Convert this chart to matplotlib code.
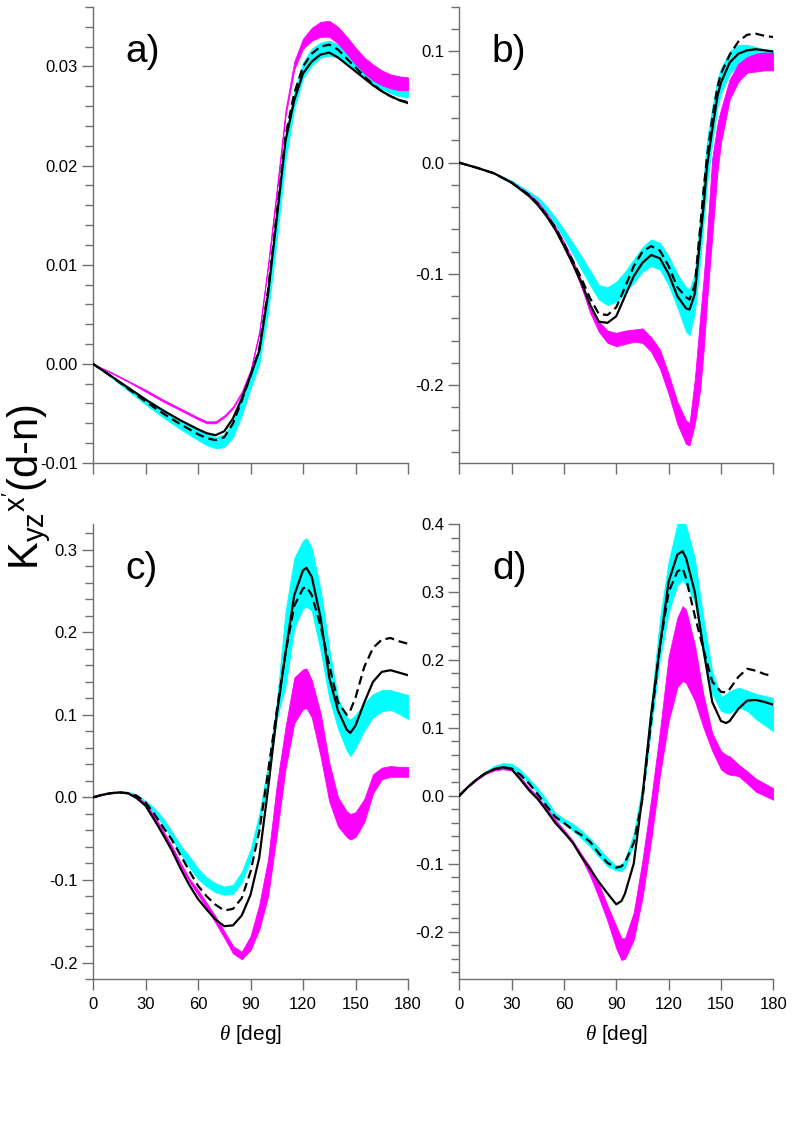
import matplotlib
matplotlib.use('Agg')
import matplotlib.pyplot as plt
from matplotlib.ticker import MultipleLocator, AutoMinorLocator, FormatStrFormatter

plt.rcParams['font.family'] = ['Liberation Sans', 'DejaVu Sans']
plt.rcParams['mathtext.fontset'] = 'custom'
plt.rcParams['mathtext.rm'] = 'Liberation Sans'
plt.rcParams['mathtext.it'] = 'Liberation Serif:italic'

# ---- panel a ----
theta_a = [0, 10, 20, 30, 40, 50, 60, 65, 70, 75, 80, 85, 90, 95, 100, 105, 110, 115, 120,
           125, 130, 135, 140, 145, 150, 155, 160, 165, 170, 175, 180]
solid_a = [0, -0.0012, -0.0024, -0.0036, -0.0047, -0.0057, -0.0066, -0.0070, -0.0072, -0.0068,
           -0.0055, -0.0035, -0.0012, 0.0013, 0.0070, 0.0147, 0.0225, 0.0266, 0.0293, 0.0305,
           0.0312, 0.0314, 0.0309, 0.0302, 0.0295, 0.0288, 0.0281, 0.0275, 0.0270, 0.0266, 0.0263]
dashed_a = [0, -0.0012, -0.0025, -0.0038, -0.0050, -0.0061, -0.0071, -0.0075, -0.0077, -0.0074,
            -0.0060, -0.0037, -0.0012, 0.0015, 0.0074, 0.0152, 0.0230, 0.0273, 0.0300, 0.0313,
            0.0320, 0.0322, 0.0317, 0.0308, 0.0299, 0.0290, 0.0282, 0.0275, 0.0270, 0.0266, 0.0264]
cyan_lo_a = [0, -0.0013, -0.0027, -0.0041, -0.0054, -0.0066, -0.0077, -0.0082, -0.0085, -0.0084,
             -0.0074, -0.0052, -0.0025, 0.0000, 0.0052, 0.0125, 0.0205, 0.0258, 0.0288, 0.0301,
             0.0309, 0.0311, 0.0309, 0.0302, 0.0295, 0.0288, 0.0282, 0.0277, 0.0273, 0.0270, 0.0269]
cyan_hi_a = [0, -0.0011, -0.0023, -0.0035, -0.0046, -0.0057, -0.0066, -0.0071, -0.0074, -0.0071,
             -0.0058, -0.0036, -0.0010, 0.0016, 0.0076, 0.0152, 0.0230, 0.0275, 0.0304, 0.0318,
             0.0324, 0.0326, 0.0322, 0.0314, 0.0305, 0.0296, 0.0289, 0.0284, 0.0280, 0.0278, 0.0277]
mag_lo_a = [0, -0.0009, -0.0018, -0.0028, -0.0038, -0.0047, -0.0056, -0.0060, -0.0060, -0.0054,
            -0.0045, -0.0030, -0.0008, 0.0030, 0.0097, 0.0172, 0.0250, 0.0297, 0.0318, 0.0326,
            0.0330, 0.0330, 0.0323, 0.0313, 0.0302, 0.0293, 0.0286, 0.0281, 0.0278, 0.0276, 0.0276]
mag_hi_a = [0, -0.0008, -0.0017, -0.0026, -0.0036, -0.0045, -0.0054, -0.0058, -0.0058, -0.0052,
            -0.0043, -0.0028, -0.0006, 0.0033, 0.0101, 0.0177, 0.0256, 0.0305, 0.0328, 0.0339,
            0.0345, 0.0346, 0.0340, 0.0330, 0.0319, 0.0309, 0.0302, 0.0296, 0.0292, 0.0290, 0.0289]

# ---- panel b ----
theta_b = [0, 10, 20, 30, 40, 45, 50, 55, 60, 65, 70, 75, 80, 85, 90, 95, 100, 105, 110, 115,
           120, 125, 130, 132, 135, 138, 140, 142, 145, 148, 150, 155, 160, 165, 170, 175, 180]
solid_b = [0, -0.0045, -0.0096, -0.018, -0.030, -0.038, -0.048, -0.060, -0.075, -0.091, -0.108,
           -0.128, -0.143, -0.144, -0.138, -0.120, -0.102, -0.090, -0.083, -0.086, -0.100, -0.120,
           -0.131, -0.132, -0.118, -0.070, -0.040, -0.003, 0.030, 0.060, 0.072, 0.090, 0.098,
           0.101, 0.102, 0.101, 0.100]
dashed_b = [0, -0.0045, -0.0096, -0.018, -0.029, -0.037, -0.047, -0.058, -0.073, -0.088, -0.104,
            -0.122, -0.136, -0.137, -0.130, -0.112, -0.093, -0.080, -0.075, -0.079, -0.093, -0.112,
            -0.121, -0.123, -0.110, -0.060, -0.025, 0.005, 0.040, 0.068, 0.080, 0.097, 0.109,
            0.115, 0.116, 0.114, 0.113]
cyan_lo_b = [0, -0.0047, -0.0098, -0.018, -0.029, -0.036, -0.044, -0.055, -0.068, -0.082, -0.096,
             -0.110, -0.123, -0.128, -0.125, -0.117, -0.108, -0.098, -0.093, -0.096, -0.110, -0.130,
             -0.152, -0.155, -0.135, -0.090, -0.055, -0.020, 0.018, 0.050, 0.062, 0.080, 0.088,
             0.091, 0.092, 0.093, 0.094]
cyan_hi_b = [0, -0.0043, -0.0090, -0.016, -0.026, -0.031, -0.039, -0.049, -0.060, -0.072, -0.084,
             -0.097, -0.110, -0.112, -0.107, -0.098, -0.087, -0.076, -0.069, -0.072, -0.084, -0.100,
             -0.112, -0.114, -0.100, -0.050, -0.015, 0.020, 0.050, 0.075, 0.085, 0.100, 0.106,
             0.106, 0.104, 0.102, 0.101]
mag_lo_b = [0, -0.0046, -0.0097, -0.018, -0.030, -0.038, -0.048, -0.060, -0.075, -0.092, -0.112,
            -0.135, -0.152, -0.162, -0.165, -0.163, -0.161, -0.162, -0.170, -0.185, -0.208, -0.235,
            -0.253, -0.254, -0.235, -0.205, -0.170, -0.125, -0.066, -0.008, 0.018, 0.057, 0.073,
            0.081, 0.082, 0.083, 0.083]
mag_hi_b = [0, -0.0043, -0.0092, -0.017, -0.028, -0.035, -0.045, -0.057, -0.071, -0.087, -0.106,
            -0.127, -0.143, -0.151, -0.153, -0.151, -0.150, -0.149, -0.157, -0.168, -0.190, -0.215,
            -0.232, -0.234, -0.195, -0.140, -0.105, -0.065, 0.004, 0.035, 0.048, 0.075, 0.089,
            0.095, 0.098, 0.099, 0.099]

# ---- panel c ----
theta_c = [0, 5, 10, 15, 20, 25, 30, 35, 40, 45, 50, 55, 60, 65, 70, 75, 80, 85, 90, 95, 100,
           105, 110, 115, 120, 122, 125, 130, 135, 140, 145, 147, 150, 155, 160, 165, 170, 175, 180]
solid_c = [0, 0.003, 0.005, 0.006, 0.005, -0.001, -0.010, -0.027, -0.045, -0.064, -0.086, -0.106,
           -0.123, -0.136, -0.148, -0.156, -0.155, -0.143, -0.118, -0.073, 0.010, 0.100, 0.175,
           0.245, 0.275, 0.278, 0.267, 0.218, 0.145, 0.105, 0.082, 0.078, 0.087, 0.115, 0.140,
           0.152, 0.154, 0.151, 0.148]
dashed_c = [0, 0.003, 0.005, 0.006, 0.005, 0.002, -0.006, -0.020, -0.036, -0.051, -0.070, -0.089,
            -0.107, -0.120, -0.130, -0.137, -0.135, -0.122, -0.090, -0.041, 0.030, 0.105, 0.175,
            0.232, 0.253, 0.255, 0.245, 0.208, 0.160, 0.115, 0.100, 0.105, 0.121, 0.158, 0.181,
            0.191, 0.193, 0.189, 0.186]
cyan_lo_c = [0, 0.003, 0.005, 0.006, 0.005, 0.000, -0.008, -0.019, -0.033, -0.050, -0.068, -0.085,
             -0.099, -0.108, -0.115, -0.118, -0.117, -0.103, -0.076, -0.035, 0.020, 0.095, 0.135,
             0.205, 0.229, 0.231, 0.226, 0.178, 0.120, 0.083, 0.057, 0.050, 0.060, 0.081, 0.097,
             0.104, 0.106, 0.101, 0.095]
cyan_hi_c = [0, 0.003, 0.006, 0.007, 0.007, 0.003, -0.004, -0.013, -0.025, -0.041, -0.058, -0.071,
             -0.086, -0.097, -0.104, -0.108, -0.106, -0.090, -0.063, -0.020, 0.040, 0.115, 0.225,
             0.290, 0.311, 0.314, 0.302, 0.252, 0.180, 0.120, 0.097, 0.094, 0.100, 0.114, 0.125,
             0.130, 0.130, 0.127, 0.124]
mag_lo_c = [0, 0.003, 0.005, 0.006, 0.005, 0.000, -0.009, -0.025, -0.043, -0.062, -0.083, -0.102,
            -0.118, -0.134, -0.152, -0.170, -0.189, -0.196, -0.185, -0.160, -0.120, -0.045, 0.035,
            0.090, 0.107, 0.108, 0.097, 0.050, -0.005, -0.035, -0.048, -0.051, -0.048, -0.030,
            0.005, 0.022, 0.025, 0.025, 0.025]
mag_hi_c = [0, 0.003, 0.006, 0.007, 0.006, 0.001, -0.007, -0.022, -0.040, -0.058, -0.079, -0.098,
            -0.112, -0.128, -0.144, -0.162, -0.180, -0.187, -0.168, -0.130, -0.075, 0.015, 0.085,
            0.145, 0.155, 0.156, 0.142, 0.102, 0.042, 0.000, -0.017, -0.020, -0.018, -0.002,
            0.028, 0.036, 0.038, 0.037, 0.037]

# ---- panel d ----
theta_d = [0, 5, 10, 15, 20, 25, 30, 35, 40, 45, 50, 55, 60, 65, 70, 75, 80, 85, 90, 93, 95, 100,
           105, 110, 115, 120, 125, 128, 130, 135, 140, 145, 150, 153, 155, 160, 165, 170, 175, 180]
solid_d = [0, 0.013, 0.024, 0.033, 0.039, 0.042, 0.039, 0.024, 0.008, -0.005, -0.022, -0.040,
           -0.054, -0.069, -0.090, -0.108, -0.127, -0.144, -0.160, -0.155, -0.144, -0.100, 0.000,
           0.120, 0.220, 0.315, 0.355, 0.360, 0.350, 0.300, 0.215, 0.138, 0.110, 0.107, 0.110,
           0.128, 0.140, 0.141, 0.138, 0.134]
dashed_d = [0, 0.013, 0.024, 0.033, 0.039, 0.042, 0.040, 0.031, 0.018, 0.002, -0.015, -0.031,
            -0.040, -0.050, -0.058, -0.068, -0.085, -0.099, -0.106, -0.104, -0.098, -0.070, -0.005,
            0.110, 0.220, 0.300, 0.330, 0.335, 0.320, 0.265, 0.215, 0.168, 0.153, 0.152, 0.157,
            0.175, 0.187, 0.184, 0.179, 0.176]
cyan_lo_d = [0, 0.013, 0.024, 0.033, 0.040, 0.042, 0.040, 0.031, 0.018, 0.004, -0.015, -0.034,
             -0.042, -0.051, -0.063, -0.075, -0.090, -0.104, -0.110, -0.111, -0.106, -0.070, -0.005,
             0.100, 0.200, 0.270, 0.310, 0.318, 0.310, 0.285, 0.205, 0.150, 0.125, 0.122, 0.122,
             0.130, 0.125, 0.113, 0.104, 0.095]
cyan_hi_d = [0, 0.014, 0.026, 0.036, 0.044, 0.048, 0.047, 0.038, 0.025, 0.011, -0.006, -0.025,
             -0.034, -0.041, -0.051, -0.063, -0.077, -0.092, -0.103, -0.101, -0.094, -0.055, 0.015,
             0.135, 0.260, 0.345, 0.400, 0.410, 0.397, 0.350, 0.260, 0.183, 0.145, 0.150, 0.154,
             0.159, 0.155, 0.150, 0.147, 0.144]
mag_lo_d = [0, 0.013, 0.023, 0.032, 0.037, 0.039, 0.037, 0.025, 0.009, -0.004, -0.021, -0.038,
            -0.053, -0.070, -0.092, -0.118, -0.150, -0.185, -0.225, -0.242, -0.240, -0.212, -0.150,
            -0.065, 0.030, 0.110, 0.160, 0.169, 0.166, 0.140, 0.100, 0.066, 0.039, 0.033, 0.031,
            0.029, 0.018, 0.006, 0.000, -0.006]
mag_hi_d = [0, 0.014, 0.024, 0.034, 0.039, 0.041, 0.039, 0.028, 0.012, -0.001, -0.018, -0.035,
            -0.050, -0.066, -0.086, -0.105, -0.130, -0.162, -0.192, -0.210, -0.210, -0.172, -0.095,
            -0.005, 0.095, 0.205, 0.262, 0.279, 0.274, 0.222, 0.148, 0.092, 0.066, 0.060, 0.058,
            0.046, 0.036, 0.025, 0.018, 0.011]

panel_labels = ['a)', 'b)', 'c)', 'd)']
x_ticks = [0, 30, 60, 90, 120, 150, 180]

axis_grey = '#6e6e6e'
cyan = '#00ffff'
magenta = '#ff00ff'

fig = plt.figure(figsize=(8.01, 11.44), dpi=100)

# axes rectangles in figure fractions (left, bottom, width, height)
rects = [(0.1161, 0.5953, 0.3933, 0.3986),
         (0.5734, 0.5953, 0.3920, 0.3986),
         (0.1161, 0.1442, 0.3933, 0.3977),
         (0.5734, 0.1442, 0.3920, 0.3977)]
ylims = [(-0.01, 0.036), (-0.27, 0.14), (-0.22, 0.331), (-0.27, 0.40)]
ymajor = [0.01, 0.1, 0.1, 0.1]
yfmt = ['%.2f', '%.1f', '%.1f', '%.1f']

panels = [
    (theta_a, solid_a, dashed_a, cyan_lo_a, cyan_hi_a, mag_lo_a, mag_hi_a),
    (theta_b, solid_b, dashed_b, cyan_lo_b, cyan_hi_b, mag_lo_b, mag_hi_b),
    (theta_c, solid_c, dashed_c, cyan_lo_c, cyan_hi_c, mag_lo_c, mag_hi_c),
    (theta_d, solid_d, dashed_d, cyan_lo_d, cyan_hi_d, mag_lo_d, mag_hi_d),
]

for i, (th, sol, das, clo, chi, mlo, mhi) in enumerate(panels):
    ax = fig.add_axes(rects[i])
    ax.fill_between(th, clo, chi, color=cyan, lw=0.6, edgecolor=cyan, zorder=1)
    ax.fill_between(th, mlo, mhi, color=magenta, lw=0.6, edgecolor=magenta, zorder=2)
    ax.plot(th, sol, color='black', lw=1.6, zorder=4)
    ax.plot(th, das, color='black', lw=1.6, dashes=(4, 2.2), zorder=3)

    ax.set_xlim(0, 180)
    ax.set_ylim(*ylims[i])
    ax.set_xticks(x_ticks)
    ax.yaxis.set_major_locator(MultipleLocator(ymajor[i]))
    ax.yaxis.set_minor_locator(AutoMinorLocator(5))
    ax.yaxis.set_major_formatter(FormatStrFormatter(yfmt[i]))

    for s in ['top', 'right']:
        ax.spines[s].set_visible(False)
    for s in ['left', 'bottom']:
        ax.spines[s].set_color(axis_grey)
        ax.spines[s].set_linewidth(1.0)
    ax.tick_params(which='major', direction='out', length=8, width=1.0, color=axis_grey,
                   labelsize=12, pad=3)
    ax.tick_params(which='minor', direction='out', length=6, width=1.0, color=axis_grey)
    ax.tick_params(axis='x', pad=5)

    if i < 2:
        ax.set_xticklabels([])
    else:
        ax.set_xlabel(r'$\theta$ [deg]', fontsize=15, labelpad=8)

    ax.text(0.104, 0.88, panel_labels[i], transform=ax.transAxes, fontsize=28,
            ha='left', va='baseline')

# shared y label (in the original it also runs close to the -0.01 tick label)
fig.text(0.034, 0.574, r"K$_{\mathrm{yz}}$$^{\mathrm{x}^{\prime}}$(d-n)", rotation=90,
         fontsize=30, ha='center', va='center')

fig.savefig('out.png', dpi=100)
